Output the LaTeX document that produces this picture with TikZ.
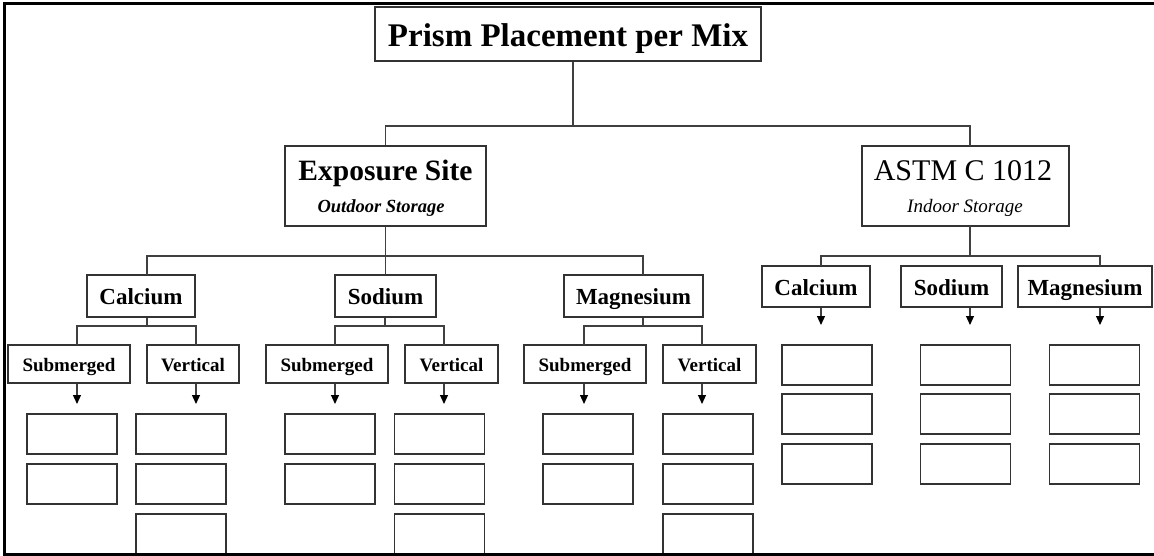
\documentclass[tikz,border=0pt]{standalone}
\usepackage{fontspec}
\setmainfont{Liberation Serif}
\usetikzlibrary{arrows.meta}
\begin{document}
\begin{tikzpicture}[x=1pt,y=-1pt,
  bx/.style={draw=black!80, line width=1.4pt, inner sep=0pt, fill=white},
  ln/.style={draw=black!75, line width=1.2pt},
  arr/.style={ln, -{Triangle[length=9pt,width=8pt,color=black]}},
  titlebox/.style={bx, minimum width=386pt, minimum height=54pt, text height=26pt, text depth=0pt,
     font=\fontsize{33}{33}\selectfont\bfseries},
  sitebox/.style={bx, minimum width=#1, minimum height=80pt},
  bigl/.style={anchor=base, inner sep=0pt, font=\fontsize{29.5}{29.5}\selectfont\bfseries},
  bigr/.style={anchor=base, inner sep=0pt, font=\fontsize{30}{30}\selectfont},
  smalll/.style={anchor=base, inner sep=0pt, font=\fontsize{18.5}{18.5}\selectfont\bfseries\itshape},
  smallr/.style={anchor=base, inner sep=0pt, font=\fontsize{19}{19}\selectfont\itshape},
  saltbox/.style={bx, minimum width=#1, minimum height=42pt, text height=17pt, text depth=0pt,
     font=\fontsize{23}{23}\selectfont\bfseries},
  saltboxr/.style={bx, minimum width=#1, minimum height=41pt, text height=17pt, text depth=0pt,
     font=\fontsize{23}{23}\selectfont\bfseries},
  posbox/.style={bx, minimum width=#1, minimum height=38pt, text height=15pt, text depth=0pt,
     font=\fontsize{19}{19}\selectfont\bfseries},
  eb/.style={bx, minimum width=90pt, minimum height=40pt}
]
\useasboundingbox (0,0) rectangle (1154,556);

% ---------- top levels ----------
\node[titlebox] (title) at (568,34) {Prism Placement per Mix};
\node[sitebox=201pt] (exp) at (385.5,186) {};
\node[bigl] (expT) at (385.5,181) {Exposure Site};
\node[smalll] (expS) at (381,213) {Outdoor Storage};
\node[sitebox=207pt] (astm) at (965.5,186) {};
\node[bigr] (astmT) at (963,181) {ASTM C 1012};
\node[smallr] (astmS) at (965,213) {Indoor Storage};

\coordinate (jA) at (573,126);
\coordinate (aTop) at (970,146);
\draw[ln] (title.south -| jA) -- (jA);
\draw[ln] (exp.north) -- (exp.north |- jA) -- (aTop |- jA) -- (aTop);

% ---------- left salts ----------
\node[saltbox=108pt] (calL) at (141,296) {Calcium};
\node[saltbox=101pt] (sodL) at (385.5,296) {Sodium};
\node[saltbox=139pt] (magL) at (633.5,296) {Magnesium};
\coordinate (jB) at (385,256);
\coordinate (cLs) at (147,275);
\coordinate (mLs) at (643,275);
\draw[ln] (exp.south) -- (exp.south |- jB);
\draw[ln] (cLs) -- (cLs |- jB) -- (mLs |- jB) -- (mLs);
\draw[ln] (sodL.north) -- (sodL.north |- jB);

% ---------- right salts ----------
\node[saltboxr=108pt] (calR) at (816,286.5) {Calcium};
\node[saltboxr=101pt] (sodR) at (951.5,286.5) {Sodium};
\node[saltboxr=134pt] (magR) at (1085,286.5) {Magnesium};
\coordinate (aBot) at (970,226);
\coordinate (jC) at (970,256);
\coordinate (cRs) at (821,266);
\coordinate (mRs) at (1100,266);
\draw[ln] (aBot) -- (jC);
\draw[ln] (cRs) -- (cRs |- jC) -- (mRs |- jC) -- (mRs);
\coordinate (cRa) at (821,325);
\coordinate (sRa) at (970,325);
\coordinate (mRa) at (1100,325);
\draw[arr] (calR.south -| cRa) -- (cRa);
\draw[arr] (sodR.south -| sRa) -- (sRa);
\draw[arr] (magR.south -| mRa) -- (mRa);

% right empty boxes
\foreach \c/\x in {c/827,s/965.5,m/1094.5}{
  \node[eb] (r\c1) at (\x,365) {};
  \node[eb] (r\c2) at (\x,414) {};
  \node[eb] (r\c3) at (\x,464) {};
}

% ---------- placement level ----------
\node[posbox=122pt] (subC) at (69,364) {Submerged};
\node[posbox=92pt]  (verC) at (193,364) {Vertical};
\node[posbox=122pt] (subS) at (327,364) {Submerged};
\node[posbox=93pt]  (verS) at (451.5,364) {Vertical};
\node[posbox=122pt] (subM) at (585,364) {Submerged};
\node[posbox=93pt]  (verM) at (709.5,364) {Vertical};

% calcium split
\coordinate (cJ) at (147,326);
\coordinate (cA) at (77,345);
\coordinate (cB) at (196,345);
\draw[ln] (calL.south -| cJ) -- (cJ);
\draw[ln] (cA) -- (cA |- cJ) -- (cB |- cJ) -- (cB);
% sodium split
\coordinate (sJ) at (385,326);
\coordinate (sA) at (335,345);
\coordinate (sB) at (444,345);
\draw[ln] (sodL.south -| sJ) -- (sJ);
\draw[ln] (sA) -- (sA |- sJ) -- (sB |- sJ) -- (sB);
% magnesium split
\coordinate (mJ) at (643,326);
\coordinate (mA) at (584,345);
\coordinate (mB) at (702,345);
\draw[ln] (magL.south -| mJ) -- (mJ);
\draw[ln] (mA) -- (mA |- mJ) -- (mB |- mJ) -- (mB);

% arrows
\foreach \n/\x in {subC/77,verC/196,subS/335,verS/444,subM/584,verM/702}{
  \coordinate (a\n) at (\x,404);
  \draw[arr] (\n.south -| a\n) -- (a\n);
}

% left empty boxes
\foreach \n/\x in {subC/72,subS/330,subM/588}{
  \node[eb] (e\n1) at (\x,434) {};
  \node[eb] (e\n2) at (\x,484) {};
}
\foreach \n/\x in {verC/181,verS/439.5,verM/708}{
  \node[eb] (e\n1) at (\x,434) {};
  \node[eb] (e\n2) at (\x,484) {};
  \node[eb] (e\n3) at (\x,534) {};
}

% ---------- frame ----------
\draw[line width=3pt] (1154,4) -- (4,4) -- (4,554) -- (1154,554);
\end{tikzpicture}
\end{document}
